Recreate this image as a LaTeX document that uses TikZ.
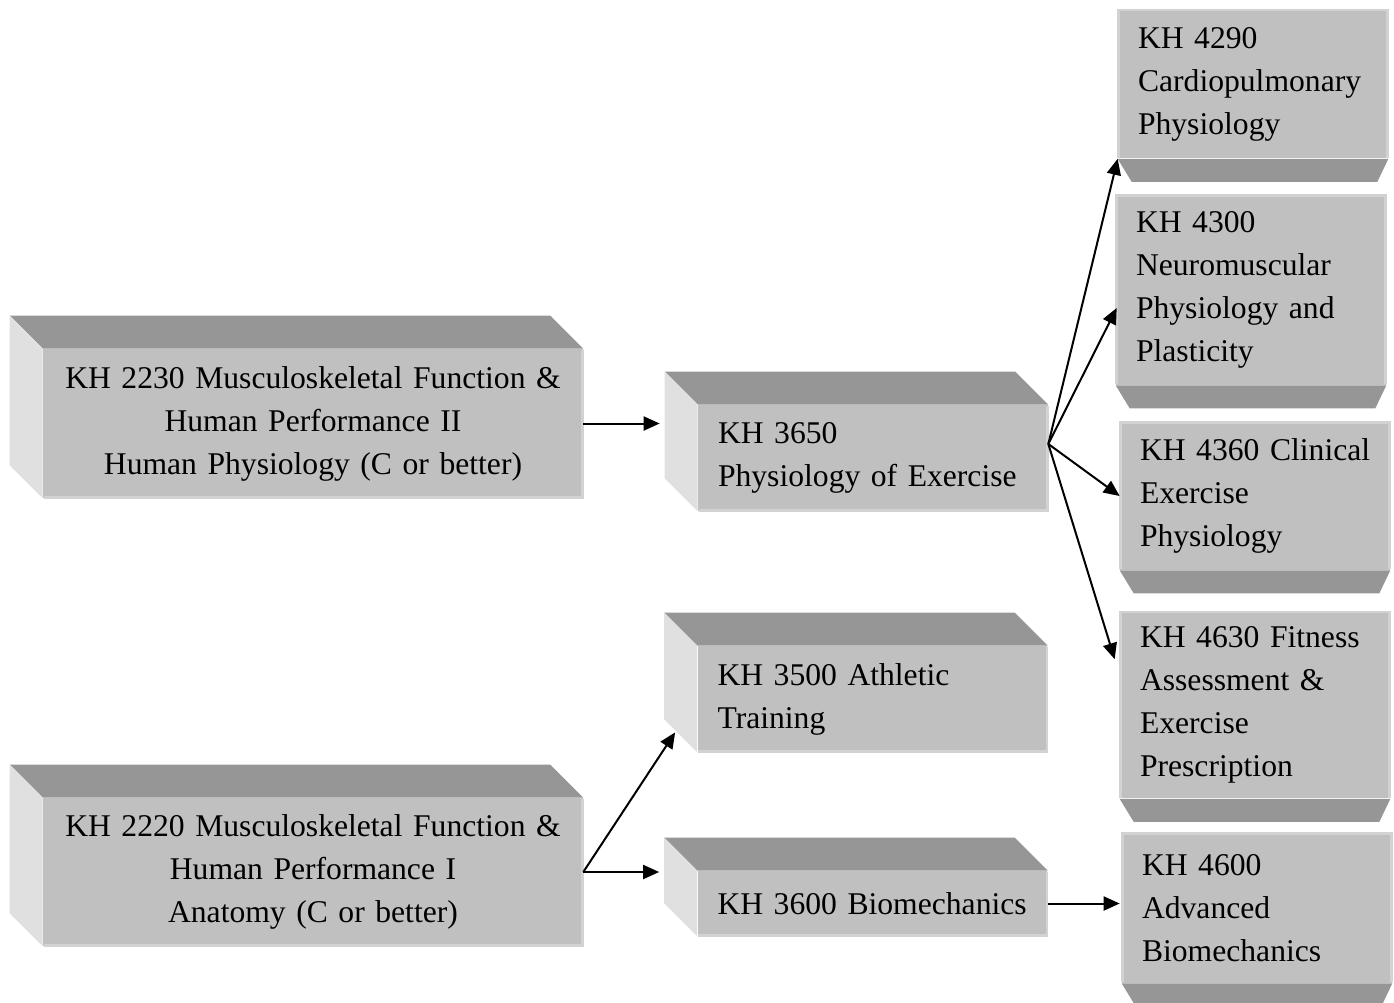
\documentclass[tikz,border=0pt]{standalone}
\usepackage{fontspec}
\setmainfont{Liberation Serif}
\usetikzlibrary{calc,arrows.meta}
\definecolor{facefront}{HTML}{C0C0C0}
\definecolor{facetop}{HTML}{969696}
\definecolor{faceside}{HTML}{E0E0E0}
\definecolor{faceedge}{HTML}{D2D2D2}
\tikzset{
	front/.style={fill=facefront, inner sep=0pt, font=\fontsize{18}{24.5}\selectfont},
	wide/.style={minimum width=10.8cm, text width=10cm, align=center},
	mid/.style={minimum width=7cm, text width=6.2cm, align=left},
	narrow/.style={minimum width=5.4cm, text width=4.6cm, align=left},
	link/.style={line width=0.04cm, -{Triangle[length=0.32cm,width=0.28cm]}}
}
% block seen from the left: top and left faces
\def\blockTL(#1)(#2)[#3]#4{
	\node[front,#3] (#1) at (#2) {#4};
	\fill[facetop] (#1.north west) -- ++(-33,-33) -- ($(#1.north east)+(-33,-33)$) -- (#1.north east) -- cycle;
	\fill[faceside] (#1.north west) -- ++(-33,-33) -- ($(#1.south west)+(-33,-33)$) -- (#1.south west) -- cycle;
	\draw[faceedge,line width=0.05cm] ($(#1.north east)+(-1,1)$) -- ($(#1.south east)+(-1,-1)$) -- ($(#1.south west)+(1,-1)$);
}
% block seen from above: bottom face
\def\blockB(#1)(#2)[#3]#4{
	\node[front,#3] (#1) at (#2) {#4};
	\fill[facetop] (#1.south west) -- ++(14,23) -- ($(#1.south east)+(-11,23)$) -- (#1.south east) -- cycle;
	\draw[faceedge,line width=0.05cm] ($(#1.south west)+(1,-1)$) -- ($(#1.north west)+(1,1)$) -- ($(#1.north east)+(-1,1)$) -- ($(#1.south east)+(-1,-1)$);
}

\begin{document}
\begin{tikzpicture}[x=0.02cm,y=-0.02cm]
	\useasboundingbox (0,0) rectangle (1394,1002);
	%%%%% BLOCKS %%%%%
	\blockTL(mfii)(313,423.5)[wide,minimum height=2.98cm]{KH 2230 Musculoskeletal Function \&\\Human Performance II\\Human Physiology (C or better)}
	\blockTL(mfi)(313,872)[wide,minimum height=2.96cm]{KH 2220 Musculoskeletal Function \&\\Human Performance I\\Anatomy (C or better)}
	
	\blockTL(exphys)(873,458)[mid,minimum height=2.12cm]{KH 3650\\Physiology of Exercise}
	\blockTL(athtrain)(872.5,699)[mid,minimum height=2.12cm]{KH 3500 Athletic\\Training}
	\blockTL(biomech)(872.5,903.5)[mid,minimum height=1.3cm]{KH 3600 Biomechanics}
	
	\blockB(cardio)(1253,84)[narrow,minimum height=2.98cm]{KH 4290\\Cardiopulmonary\\Physiology}
	\blockB(neuro)(1251,290)[narrow,minimum height=3.8cm]{KH 4300\\Neuromuscular\\Physiology and\\Plasticity}
	\blockB(clinical)(1255,496)[narrow,minimum height=2.96cm]{\mbox{KH 4360 Clinical}\\Exercise\\Physiology}
	\blockB(fitness)(1255,705)[narrow,minimum height=3.74cm]{KH 4630 Fitness\\Assessment \&\\Exercise\\Prescription}
	\blockB(advbio)(1257,908)[narrow,minimum height=3cm]{KH 4600\\Advanced\\Biomechanics}
	
	%%%%% ARROWS %%%%%
	\coordinate (fan) at ($(exphys.east)+(0,-14)$);
	\draw[link] (mfii.east) -- ($(mfii.east -| exphys.west)+(-38,0)$);
	\draw[link] (mfi.east) -- ($(athtrain.south west)+(-22,-20)$);
	\draw[link] (mfi.east) -- ($(mfi.east -| biomech.west)+(-38,0)$);
	\draw[link] (biomech.east) -- ($(biomech.east -| advbio.west)+(-2,0)$);
	\draw[link] (fan) -- (cardio.south west);
	\draw[link] (fan) -- ($(neuro.west)+(1,18)$);
	\draw[link] (fan) -- (clinical.west);
	\draw[link] (fan) -- ($(fitness.north west)+(-5,48)$);
\end{tikzpicture}
\end{document}
